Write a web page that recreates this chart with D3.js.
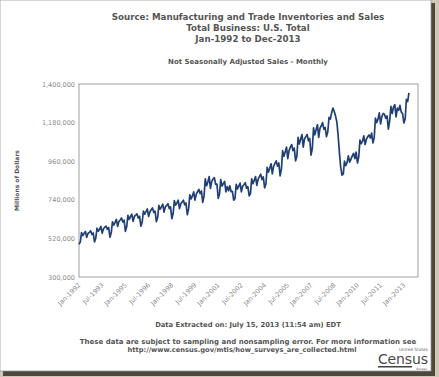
<!DOCTYPE html>
<html>
<head>
<script src="https://cdn.jsdelivr.net/npm/d3@7"></script>
<style>
  body { margin: 0; background: #ffffff; }
  text { font-family: "DejaVu Sans", Verdana, sans-serif; }
  .title { font-weight: bold; fill: #555; }
  .tick text { fill: #8a8a8a; }
</style>
</head>
<body>
<script>
// monthly sales, millions of dollars, Jan-1992 .. May-2013
var sales = [
  486000, 500000, 553000, 536000, 549000, 560000, 526000, 548000, 555000, 563000, 542000, 551000, // 1992
  500000, 523000, 578000, 561000, 572000, 588000, 550000, 575000, 584000, 590000, 571000, 582000, // 1993
  527000, 553000, 615000, 596000, 611000, 628000, 588000, 617000, 625000, 636000, 614000, 624000, // 1994
  560000, 588000, 652000, 628000, 645000, 658000, 617000, 645000, 652000, 660000, 636000, 646000, // 1995
  590000, 612000, 676000, 658000, 672000, 688000, 645000, 672000, 683000, 694000, 668000, 676000, // 1996
  615000, 640000, 708000, 687000, 700000, 715000, 670000, 700000, 708000, 718000, 690000, 700000, // 1997
  632000, 662000, 735000, 710000, 722000, 738000, 690000, 718000, 728000, 738000, 712000, 722000, // 1998
  655000, 688000, 768000, 745000, 762000, 785000, 738000, 772000, 786000, 800000, 775000, 790000, // 1999
  725000, 762000, 860000, 820000, 842000, 872000, 805000, 845000, 858000, 866000, 828000, 830000, // 2000
  748000, 775000, 855000, 818000, 832000, 845000, 785000, 815000, 792000, 820000, 786000, 788000, // 2001
  738000, 748000, 828000, 802000, 818000, 835000, 785000, 818000, 826000, 838000, 806000, 815000, // 2002
  762000, 775000, 860000, 832000, 852000, 872000, 822000, 858000, 872000, 886000, 855000, 870000, // 2003
  808000, 830000, 925000, 898000, 920000, 945000, 888000, 932000, 948000, 962000, 932000, 950000, // 2004
  876000, 915000, 1020000, 988000, 1012000, 1040000, 975000, 1022000, 1040000, 1055000, 1020000, 1035000, // 2005
  962000, 988000, 1096000, 1058000, 1086000, 1112000, 1040000, 1088000, 1100000, 1112000, 1076000, 1090000, // 2006
  995000, 1034000, 1150000, 1110000, 1140000, 1168000, 1096000, 1148000, 1162000, 1180000, 1142000, 1152000, // 2007
  1100000, 1128000, 1210000, 1200000, 1235000, 1263000, 1245000, 1218000, 1185000, 1110000, 1010000, 928000, // 2008
  880000, 888000, 960000, 935000, 952000, 990000, 955000, 972000, 990000, 1005000, 975000, 1012000, // 2009
  950000, 985000, 1080000, 1060000, 1075000, 1105000, 1055000, 1085000, 1100000, 1110000, 1092000, 1120000, // 2010
  1064000, 1095000, 1205000, 1180000, 1200000, 1235000, 1172000, 1215000, 1232000, 1228000, 1205000, 1218000, // 2011
  1143000, 1190000, 1272000, 1232000, 1268000, 1282000, 1212000, 1262000, 1250000, 1278000, 1240000, 1232000, // 2012
  1178000, 1200000, 1312000, 1300000, 1349000 // 2013
];
var startDate = new Date(1992, 0, 1);
var endDate = new Date(2013, 11, 1);
var yTicks = [300000, 520000, 740000, 960000, 1180000, 1400000];
var xTickLabels = ["Jan-1992", "Jul-1993", "Jan-1995", "Jul-1996", "Jan-1998", "Jul-1999", "Jan-2001",
                   "Jul-2002", "Jan-2004", "Jul-2005", "Jan-2007", "Jul-2008", "Jan-2010", "Jul-2011", "Jan-2013"];
var titleLines = ["Source: Manufacturing and Trade Inventories and Sales", "Total Business: U.S. Total", "Jan-1992 to Dec-2013"];

var W = 439, H = 377;
var plot = {left: 79, top: 84, right: 418, bottom: 277};

var svg = d3.select("body").append("svg").attr("width", W).attr("height", H);

// picture frame + shadow
svg.append("rect").attr("width", W).attr("height", H).attr("fill", "#cfc8b8");
svg.append("rect").attr("x", 3).attr("y", 3).attr("width", 432).attr("height", 373).attr("fill", "#4e473b");
svg.append("rect").attr("x", 0).attr("y", 0).attr("width", 431).attr("height", 371)
   .attr("fill", "#fff").attr("stroke", "#9a9a9a").attr("stroke-width", 0.8);

var parse = d3.timeParse("%b-%Y");
var data = sales.map(function(v, i) {
  return {date: d3.timeMonth.offset(startDate, i), value: v};
});

var x = d3.scaleTime().domain([startDate, endDate]).range([plot.left, plot.right]);
var y = d3.scaleLinear().domain([300000, 1400000]).range([plot.bottom, plot.top]);

// titles
svg.selectAll("text.t").data(titleLines).enter().append("text")
   .attr("class", "title")
   .attr("x", 248).attr("y", function(d, i) { return 20 + i * 11; })
   .attr("text-anchor", "middle").attr("font-size", 8.7).text(function(d) { return d; });
svg.append("text").attr("class", "title").attr("x", 248).attr("y", 64)
   .attr("text-anchor", "middle").attr("font-size", 7)
   .text("Not Seasonally Adjusted Sales - Monthly");

// plot frame
svg.append("rect").attr("x", plot.left).attr("y", plot.top)
   .attr("width", plot.right - plot.left).attr("height", plot.bottom - plot.top)
   .attr("fill", "none").attr("stroke", "#a0a0a0").attr("stroke-width", 1);

// y axis
var yAxis = svg.append("g").attr("transform", "translate(" + plot.left + ",0)")
   .call(d3.axisLeft(y).tickValues(yTicks).tickSize(0).tickPadding(4).tickFormat(d3.format(",")));
yAxis.select(".domain").remove();
yAxis.selectAll("text").attr("font-size", 6.5).attr("font-family", "DejaVu Sans");

svg.append("text").attr("class", "title")
   .attr("transform", "translate(19," + ((plot.top + plot.bottom) / 2) + ") rotate(-90)")
   .attr("text-anchor", "middle").attr("font-size", 6).text("Millions of Dollars");

// x axis
var xAxis = svg.append("g").attr("transform", "translate(0," + plot.bottom + ")")
   .call(d3.axisBottom(x).tickValues(xTickLabels.map(parse)).tickSize(0).tickFormat(d3.timeFormat("%b-%Y")));
xAxis.select(".domain").remove();
xAxis.selectAll("text")
   .attr("font-size", 6.5).attr("font-family", "DejaVu Sans")
   .attr("text-anchor", "end")
   .attr("dy", "0.3em")
   .attr("transform", "translate(-2,5) rotate(-45)");

// line
var line = d3.line().x(function(d) { return x(d.date); }).y(function(d) { return y(d.value); });
svg.append("path").datum(data).attr("d", line)
   .attr("fill", "none").attr("stroke", "#1f3f75").attr("stroke-width", 1.7).attr("stroke-linejoin", "round");

// footer
svg.append("text").attr("class", "title").attr("x", 248).attr("y", 327)
   .attr("text-anchor", "middle").attr("font-size", 6.8).attr("fill", "#444")
   .text("Data Extracted on: July 15, 2013 (11:54 am) EDT");
svg.append("text").attr("class", "title").attr("x", 248).attr("y", 344)
   .attr("text-anchor", "middle").attr("font-size", 7)
   .text("These data are subject to sampling and nonsampling error. For more information see");
svg.append("text").attr("class", "title").attr("x", 242).attr("y", 352)
   .attr("text-anchor", "middle").attr("font-size", 6.7)
   .text("http://www.census.gov/mtis/how_surveys_are_collected.html");

// census logo
var logo = svg.append("g");
logo.append("text").attr("x", 428).attr("y", 350.5).attr("text-anchor", "end")
   .attr("font-size", 4.3).attr("fill", "#666").attr("font-family", "Liberation Sans").text("United States");
logo.append("text").attr("x", 428).attr("y", 364).attr("text-anchor", "end")
   .attr("font-size", 14).attr("fill", "#4a4a4a").attr("font-family", "Liberation Sans Narrow")
   .attr("letter-spacing", -0.1).text("Census");
logo.append("rect").attr("x", 378).attr("y", 366).attr("width", 34).attr("height", 1.5).attr("fill", "#444");
logo.append("text").attr("x", 427).attr("y", 370).attr("text-anchor", "end")
   .attr("font-size", 3).attr("fill", "#666").attr("font-family", "Liberation Sans").text("Bureau");
</script>
</body>
</html>
